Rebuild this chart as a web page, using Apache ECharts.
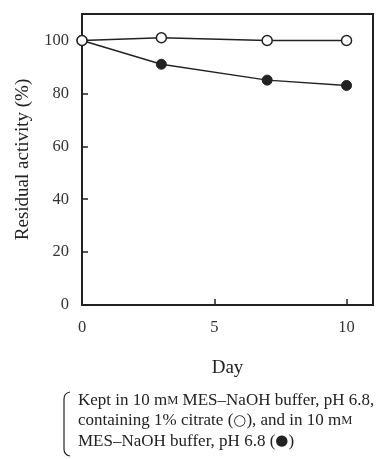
<!DOCTYPE html>
<html>
<head>
<meta charset="utf-8">
<script src="https://cdn.jsdelivr.net/npm/echarts@6/dist/echarts.min.js"></script>
<style>
  html, body { margin: 0; padding: 0; background: #fff; }
  #chart { width: 382px; height: 459px; }
</style>
</head>
<body>
<div id="chart"></div>
<script>
// data
var days = [0, 3, 7, 10];
var withCitrate = [100, 101, 100, 100];   // open circles
var bufferOnly = [100, 91, 85, 83];       // filled circles

var font = '"Liberation Serif", "DejaVu Serif", serif';
var ink = '#222';

function pairs(xs, ys) {
  return xs.map(function (x, i) { return [x, ys[i]]; });
}

var braceStyle = { fill: null, stroke: ink, lineWidth: 1.2 };

var chart = echarts.init(document.getElementById('chart'));
chart.setOption({
  animation: false,
  grid: {
    left: 82,
    top: 14,
    right: 9,
    bottom: 154,
    show: true,
    borderColor: ink,
    borderWidth: 2,
  },
  xAxis: {
    type: 'value',
    min: 0,
    max: 11,
    interval: 5,
    name: 'Day',
    nameLocation: 'middle',
    nameGap: 54,
    nameTextStyle: { fontFamily: font, fontSize: 19, color: ink },
    axisLine: { show: true, lineStyle: { color: ink, width: 2 } },
    axisTick: { show: true, inside: true, length: 6, lineStyle: { color: ink, width: 1.5 } },
    axisLabel: { showMaxLabel: false, margin: 14, fontFamily: font, fontSize: 16.5, color: '#333' },
    splitLine: { show: false },
  },
  yAxis: {
    type: 'value',
    min: 0,
    max: 110,
    interval: 20,
    name: 'Residual activity (%)',
    nameLocation: 'middle',
    nameGap: 49,
    nameTextStyle: { fontFamily: font, fontSize: 19, color: ink },
    axisLine: { show: true, lineStyle: { color: ink, width: 2 } },
    axisTick: { show: true, inside: true, length: 6, lineStyle: { color: ink, width: 1.5 } },
    axisLabel: {
      margin: 13,
      fontFamily: font,
      fontSize: 16.5,
      color: '#333',
      formatter: function (v) { return v > 100 ? '' : v; },
    },
    splitLine: { show: false },
  },
  series: [
    {
      type: 'line',
      data: pairs(days, bufferOnly),
      symbol: 'circle',
      symbolSize: 10,
      lineStyle: { color: ink, width: 1.4 },
      itemStyle: { color: ink, borderColor: ink, borderWidth: 1 },
      z: 2,
    },
    {
      type: 'line',
      data: pairs(days, withCitrate),
      symbol: 'circle',
      symbolSize: 10,
      lineStyle: { color: ink, width: 1.4 },
      itemStyle: { color: '#fff', borderColor: ink, borderWidth: 1.5 },
      z: 3,
    },
  ],
  graphic: [
    {
      type: 'bezierCurve',
      shape: { x1: 70, y1: 392, cpx1: 64, cpy1: 393, x2: 64, y2: 399 },
      style: braceStyle,
    },
    {
      type: 'line',
      shape: { x1: 64, y1: 399, x2: 64, y2: 449 },
      style: braceStyle,
    },
    {
      type: 'bezierCurve',
      shape: { x1: 64, y1: 449, cpx1: 64, cpy1: 455, x2: 70, y2: 456 },
      style: braceStyle,
    },
    {
      type: 'text',
      left: 78,
      top: 390,
      style: {
        text: 'Kept in 10 m{sc|M} MES–NaOH buffer, pH 6.8,\ncontaining 1% citrate ({sym|○}), and in 10 m{sc|M}\nMES–NaOH buffer, pH 6.8 ({sym|●})',
        font: '17px ' + font,
        fill: ink,
        lineHeight: 20.5,
        rich: {
          sc: { fontSize: 12.5, fontFamily: font, fill: ink, lineHeight: 20.5 },
          sym: { fontSize: 15, fontFamily: '"DejaVu Sans", sans-serif', fill: ink, lineHeight: 20.5 },
        },
      },
    },
  ],
});
</script>
</body>
</html>
